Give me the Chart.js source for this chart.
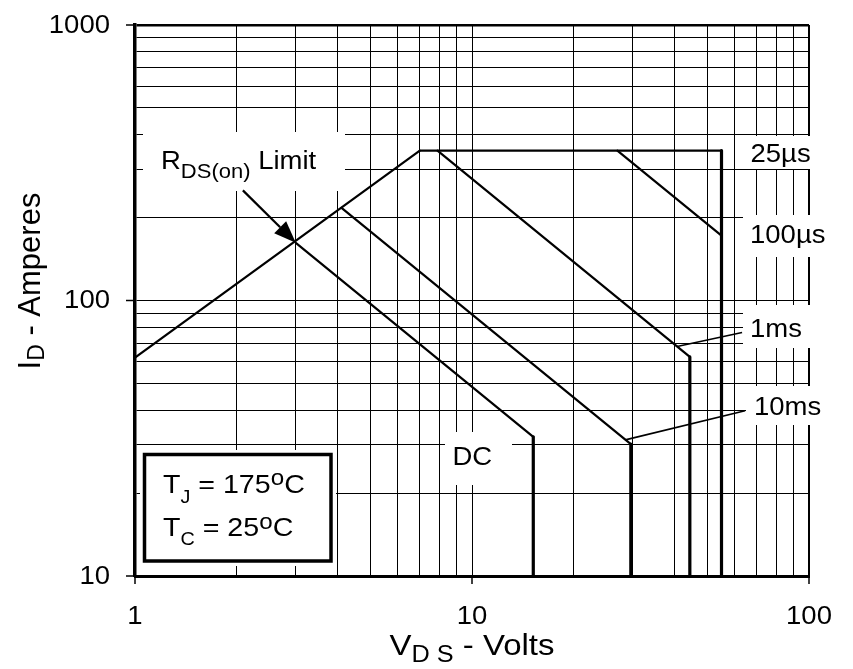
<!DOCTYPE html>
<html>
<head>
<meta charset="utf-8">
<script src="https://cdn.jsdelivr.net/npm/chart.js@4/dist/chart.umd.min.js"></script>
<style>
  html, body { margin: 0; padding: 0; background: #fff; }
  canvas { display: block; }
</style>
</head>
<body>
<canvas id="soa" width="853" height="669"></canvas>
<script>
const FONT = '"Liberation Sans", Arial, Helvetica, sans-serif';

// grid positions on both log axes and the labelled decades
const vdsGrid = [1, 2, 3, 4, 5, 6, 7, 8, 9, 10, 20, 30, 40, 50, 60, 70, 80, 90, 100];
const idGrid = [10, 20, 30, 40, 50, 60, 70, 80, 90, 100, 200, 300, 400, 500, 600, 700, 800, 900, 1000];
const vdsLabels = [1, 10, 100];
const idLabels = [10, 100, 1000];

// safe operating area boundaries (VDS in volts, ID in amperes)
const rdsV = [1, 7];
const rdsI = [62, 350];
const us25V = [7, 55, 55];
const us25I = [350, 350, 10];
const us100V = [27, 55];
const us100I = [350, 172];
const ms1V = [7.9, 44.3, 44.3];
const ms1I = [350, 62.4, 10];
const ms10V = [4.1, 29.6, 29.6];
const ms10I = [217, 30.1, 10];
const dcV = [3.0, 15.2, 15.2];
const dcI = [162, 32, 10];

// callout leader lines and the RDS(on) arrow
const lead1msV = [40.6, 63.3];
const lead1msI = [68.1, 76.5];
const lead10msV = [28.5, 64.6];
const lead10msI = [31.2, 39.8];
const arrowV = [2.09, 3.0];
const arrowI = [251, 162];

function pts(vs, is) {
  return vs.map((v, k) => ({ x: v, y: is[k] }));
}

function boundary(label, vs, is) {
  return {
    label,
    data: pts(vs, is),
    borderColor: '#000',
    borderWidth: 2.2,
    pointRadius: 0,
    tension: 0,
    fill: false,
    borderJoinStyle: 'round',
    borderCapStyle: 'round',
    segment: {
      // vertical voltage limits are drawn heavier
      borderWidth: c => (c.p0.parsed.x === c.p1.parsed.x ? 3.2 : 2.2)
    }
  };
}

function leader(label, vs, is) {
  return {
    label,
    data: pts(vs, is),
    borderColor: '#000',
    borderWidth: 1.6,
    pointRadius: 0,
    tension: 0,
    fill: false
  };
}

// draws a run of text pieces (text, size, baseline shift), horizontally widened by sx
function drawRuns(ctx, runs, x, y, sx, align) {
  const widths = runs.map(r => {
    ctx.font = r[1] + 'px ' + FONT;
    return ctx.measureText(r[0]).width * sx;
  });
  const total = widths.reduce((a, b) => a + b, 0);
  let cx = align === 'center' ? x - total / 2 : align === 'right' ? x - total : x;
  runs.forEach((r, i) => {
    ctx.save();
    ctx.translate(cx, y + (r[2] || 0));
    ctx.scale(sx, 1);
    ctx.font = r[1] + 'px ' + FONT;
    ctx.fillStyle = '#000';
    ctx.textAlign = 'left';
    ctx.textBaseline = 'alphabetic';
    ctx.fillText(r[0], 0, 0);
    ctx.restore();
    cx += widths[i];
  });
}

const annotate = {
  id: 'annotate',
  beforeDatasetsDraw(chart) {
    const ctx = chart.ctx;
    ctx.save();
    ctx.fillStyle = '#fff';
    // blank areas behind the labels
    [
      [143, 132, 202, 59],
      [742, 136, 111, 33],
      [743, 215, 110, 42],
      [743, 305, 110, 43],
      [746, 386, 107, 39],
      [445, 432, 67, 53],
      [140, 450, 196, 116]
    ].forEach(r => ctx.fillRect(r[0], r[1], r[2], r[3]));
    // condition box
    ctx.strokeStyle = '#000';
    ctx.lineWidth = 3.5;
    ctx.strokeRect(144.5, 454.5, 186.5, 106.5);
    ctx.restore();
  },
  afterDatasetsDraw(chart) {
    const ctx = chart.ctx;
    const xs = chart.scales.x;
    const ys = chart.scales.y;
    const area = chart.chartArea;
    ctx.save();

    // outer tick marks at the decades
    ctx.strokeStyle = '#000';
    ctx.lineWidth = 1.5;
    vdsLabels.forEach(v => {
      const px = xs.getPixelForValue(v);
      ctx.beginPath();
      ctx.moveTo(px, area.bottom);
      ctx.lineTo(px, area.bottom + 8);
      ctx.stroke();
    });
    idLabels.forEach(v => {
      const py = ys.getPixelForValue(v);
      ctx.beginPath();
      ctx.moveTo(area.left - 9, py);
      ctx.lineTo(area.left, py);
      ctx.stroke();
    });

    // tick labels
    vdsLabels.forEach(v => drawRuns(ctx, [[String(v), 25, 0]], xs.getPixelForValue(v), 624, 1.1, 'center'));
    idLabels.forEach(v => drawRuns(ctx, [[String(v), 25, 0]], 110, ys.getPixelForValue(v) + 7.5, 1.1, 'right'));

    // axis titles
    drawRuns(ctx, [['V', 30, 0], ['D S', 23, 6.5], [' - Volts', 30, 0]], 472, 655, 1.1, 'center');
    ctx.save();
    ctx.translate(40, 281);
    ctx.rotate(-Math.PI / 2);
    drawRuns(ctx, [['I', 31, 0], ['D', 23, 4], [' - Amperes', 31, 0]], 0, 0, 1, 'center');
    ctx.restore();

    // RDS(on) arrow
    const tx = xs.getPixelForValue(arrowV[0]);
    const ty = ys.getPixelForValue(arrowI[0]);
    const hx = xs.getPixelForValue(arrowV[1]);
    const hy = ys.getPixelForValue(arrowI[1]);
    const ang = Math.atan2(hy - ty, hx - tx);
    const headLen = 22;
    const headHalf = 8.5;
    const bx = hx - headLen * Math.cos(ang);
    const by = hy - headLen * Math.sin(ang);
    ctx.lineWidth = 2.2;
    ctx.beginPath();
    ctx.moveTo(tx, ty);
    ctx.lineTo(bx, by);
    ctx.stroke();
    ctx.fillStyle = '#000';
    ctx.beginPath();
    ctx.moveTo(hx, hy);
    ctx.lineTo(bx + headHalf * Math.sin(ang), by - headHalf * Math.cos(ang));
    ctx.lineTo(bx - headHalf * Math.sin(ang), by + headHalf * Math.cos(ang));
    ctx.closePath();
    ctx.fill();

    // curve labels
    drawRuns(ctx, [['R', 25, 0], ['DS(on)', 20, 8.7], [' Limit', 25, 0]], 161, 169, 1.1, 'left');
    drawRuns(ctx, [['25µs', 25, 0]], 750.5, 161.5, 1.1, 'left');
    drawRuns(ctx, [['100µs', 25, 0]], 750, 243.3, 1.1, 'left');
    drawRuns(ctx, [['1ms', 25, 0]], 750, 337.3, 1.1, 'left');
    drawRuns(ctx, [['10ms', 25, 0]], 754, 415, 1.1, 'left');
    drawRuns(ctx, [['DC', 25, 0]], 452.5, 464.5, 1.1, 'left');

    // operating conditions
    drawRuns(ctx, [['T', 26, 0], ['J', 18, 10], [' = 175', 26, 0], ['o', 22, -7.5], ['C', 26, 0]], 163, 492.5, 1.1, 'left');
    drawRuns(ctx, [['T', 26, 0], ['C', 18, 9], [' = 25', 26, 0], ['o', 22, -7], ['C', 26, 0]], 163, 536, 1.1, 'left');

    ctx.restore();
  }
};

new Chart(document.getElementById('soa'), {
  type: 'line',
  data: {
    datasets: [
      boundary('RDS(on) Limit', rdsV, rdsI),
      boundary('25µs', us25V, us25I),
      boundary('100µs', us100V, us100I),
      boundary('1ms', ms1V, ms1I),
      boundary('10ms', ms10V, ms10I),
      boundary('DC', dcV, dcI),
      leader('1ms callout', lead1msV, lead1msI),
      leader('10ms callout', lead10msV, lead10msI)
    ]
  },
  options: {
    responsive: false,
    animation: false,
    devicePixelRatio: 1,
    layout: { padding: { left: 135, right: 44, top: 25, bottom: 93 } },
    plugins: { legend: { display: false }, tooltip: { enabled: false } },
    scales: {
      x: {
        type: 'logarithmic',
        min: 1,
        max: 100,
        afterBuildTicks: s => { s.ticks = vdsGrid.map(v => ({ value: v })); },
        ticks: { display: false, autoSkip: false },
        grid: {
          color: '#000',
          drawTicks: false,
          lineWidth: c => (c.tick && c.tick.value === 100 ? 2 : 1)
        },
        border: { display: true, color: '#000', width: 3 }
      },
      y: {
        type: 'logarithmic',
        min: 10,
        max: 1000,
        afterBuildTicks: s => { s.ticks = idGrid.map(v => ({ value: v })); },
        ticks: { display: false, autoSkip: false },
        grid: {
          color: '#000',
          drawTicks: false,
          lineWidth: c => (c.tick && c.tick.value === 1000 ? 2.5 : 1)
        },
        border: { display: true, color: '#000', width: 3.5 }
      }
    }
  },
  plugins: [annotate]
});
</script>
</body>
</html>
